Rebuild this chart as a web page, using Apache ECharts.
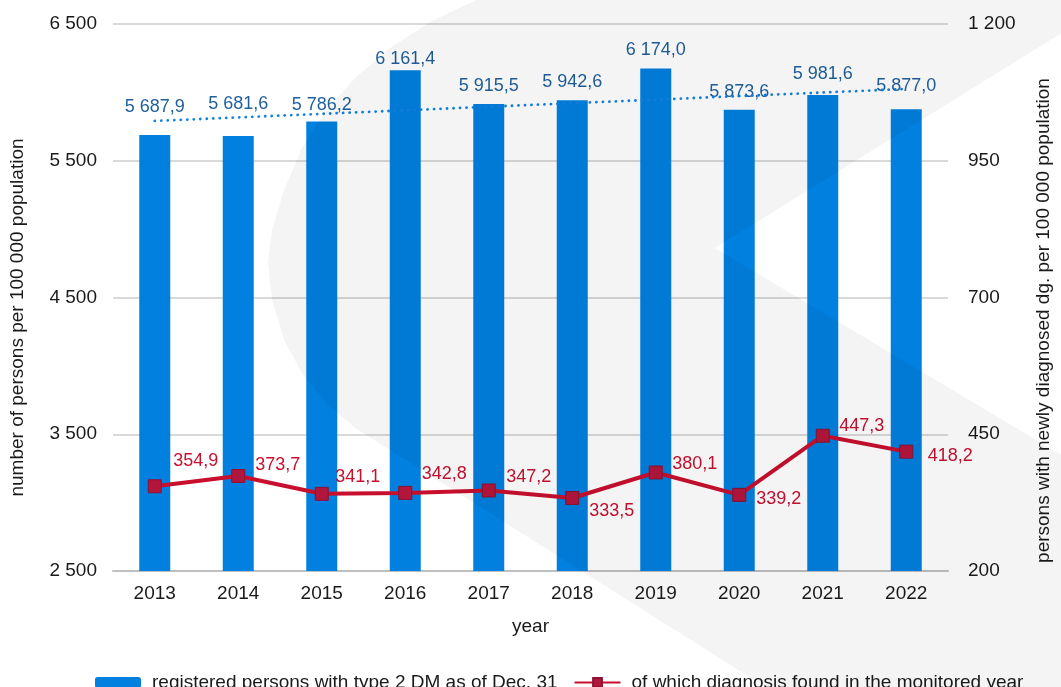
<!DOCTYPE html>
<html>
<head>
<meta charset="utf-8">
<script src="https://cdn.jsdelivr.net/npm/echarts@6/dist/echarts.min.js"></script>
<style>
  html, body { margin: 0; padding: 0; background: #ffffff; }
  #chart { width: 1061px; height: 687px; }
</style>
</head>
<body>
<div id="chart"></div>
<script>
// Type 2 diabetes: registered persons and new diagnoses per 100 000 population
const years = ['2013', '2014', '2015', '2016', '2017', '2018', '2019', '2020', '2021', '2022'];
const registered = [5687.9, 5681.6, 5786.2, 6161.4, 5915.5, 5942.6, 6174.0, 5873.6, 5981.6, 5877.0];
const newlyDiagnosed = [354.9, 373.7, 341.1, 342.8, 347.2, 333.5, 380.1, 339.2, 447.3, 418.2];
// linear trend of the registered series, value at 2013 and at 2022
const trendEnds = [5791, 6025];
const leftTicks = [2500, 3500, 4500, 5500, 6500];
const rightTicks = [200, 450, 700, 950, 1200];

const barName = 'registered persons with type 2 DM as of Dec. 31';
const lineName = 'of which diagnosis found in the monitored year';

// hand-placed label nudges (pixels)
const barLabelShift = [-14, -17.5, -3, 3, -3.5, -4.5, -5, -4, -6.5, -9.5];
const lineLabelShift = [[6.5, -25], [5, -11], [1.5, -16.5], [4.5, -18.5], [5.5, -13.5],
                        [5, 13], [4.5, -8], [5, 4.5], [4.5, -10], [9.5, 4]];

function fmt(v, dec) {
  const s = v.toFixed(dec).split('.');
  const int = s[0].replace(/\B(?=(\d{3})+(?!\d))/g, ' ');
  return s.length > 1 ? int + ',' + s[1] : int;
}

const FONT = "'Liberation Sans', Arial, sans-serif";
const TEXT = '#1a1a1a';

const chart = echarts.init(document.getElementById('chart'), null, { renderer: 'canvas' });

chart.setOption({
  animation: false,
  textStyle: { fontFamily: FONT },
  grid: { left: 113, right: 107, top: 24, bottom: 116, containLabel: false },
  legend: {
    data: [barName, lineName],
    left: 90,
    top: 668,
    itemWidth: 46,
    itemHeight: 11,
    itemGap: 16,
    selectedMode: false,
    textStyle: { fontSize: 19, color: TEXT, fontFamily: FONT, padding: [0, 0, 0, 6] }
  },
  xAxis: {
    type: 'category',
    data: years,
    axisLine: { lineStyle: { color: '#bfbfbf', width: 2 } },
    axisTick: { show: false },
    axisLabel: { fontSize: 19, color: TEXT, margin: 13 },
    name: 'year',
    nameLocation: 'middle',
    nameGap: 46,
    nameTextStyle: { fontSize: 19, color: TEXT }
  },
  yAxis: [
    {
      type: 'value',
      min: leftTicks[0],
      max: leftTicks[leftTicks.length - 1],
      interval: leftTicks[1] - leftTicks[0],
      axisLine: { show: false },
      axisTick: { show: false },
      splitLine: { lineStyle: { color: '#d9d9d9', width: 2 } },
      axisLabel: { fontSize: 19, color: TEXT, margin: 16, formatter: v => fmt(v, 0) },
      name: 'number of persons per 100 000 population',
      nameLocation: 'middle',
      nameRotate: 90,
      nameGap: 86,
      nameTextStyle: { fontSize: 19, color: TEXT, padding: [0, 40, 0, 0] }
    },
    {
      type: 'value',
      position: 'right',
      min: rightTicks[0],
      max: rightTicks[rightTicks.length - 1],
      interval: rightTicks[1] - rightTicks[0],
      axisLine: { show: false },
      axisTick: { show: false },
      splitLine: { show: false },
      axisLabel: { fontSize: 19, color: TEXT, margin: 20, formatter: v => fmt(v, 0) },
      name: 'persons with newly diagnosed dg. per 100 000 population',
      nameLocation: 'middle',
      nameRotate: 90,
      nameGap: 86,
      nameTextStyle: { fontSize: 19, color: TEXT, padding: [0, 46, 0, 0] }
    }
  ],
  series: [
    {
      name: barName,
      type: 'bar',
      yAxisIndex: 0,
      barWidth: 31,
      itemStyle: { color: '#0280e0' },
      data: registered.map((v, i) => ({
        value: v,
        label: { offset: [0, barLabelShift[i]] }
      })),
      label: {
        show: true,
        position: 'top',
        distance: 5,
        fontSize: 18,
        color: '#1f5f9c',
        formatter: p => fmt(p.value, 1)
      },
      z: 2
    },
    {
      name: 'trend',
      type: 'line',
      yAxisIndex: 0,
      data: [[years[0], trendEnds[0]], [years[years.length - 1], trendEnds[1]]],
      symbol: 'none',
      silent: true,
      lineStyle: { color: '#1382e0', width: 2.8, type: [0.1, 6.4], cap: 'round' },
      z: 3
    },
    {
      name: lineName,
      type: 'line',
      yAxisIndex: 1,
      symbol: 'rect',
      symbolSize: 13,
      lineStyle: { color: '#c8102e', width: 4 },
      itemStyle: { color: '#b3163d', borderColor: '#8a1232', borderWidth: 1 },
      data: newlyDiagnosed.map((v, i) => ({
        value: v,
        label: { offset: lineLabelShift[i] }
      })),
      label: {
        show: true,
        position: 'right',
        distance: 5,
        fontSize: 18,
        color: '#c8102e',
        formatter: p => fmt(p.value, 1)
      },
      z: 4
    }
  ],
  graphic: [
    {
      // large pale chevron watermark laid over the plot
      type: 'polygon',
      silent: true,
      z: 100,
      shape: {
        points: [
          [476, -2], [476, 0], [430, 22], [390, 48], [355, 78], [325, 112], [302, 148],
          [284, 190], [272, 230], [268, 262], [272, 300], [284, 340], [303, 375],
          [328, 405], [355, 428], [770, 690], [1070, 690], [1070, 460], [715, 248],
          [1070, 28], [1070, -2]
        ]
      },
      style: { fill: 'rgba(0,0,0,0.043)' }
    }
  ]
});
</script>
</body>
</html>
